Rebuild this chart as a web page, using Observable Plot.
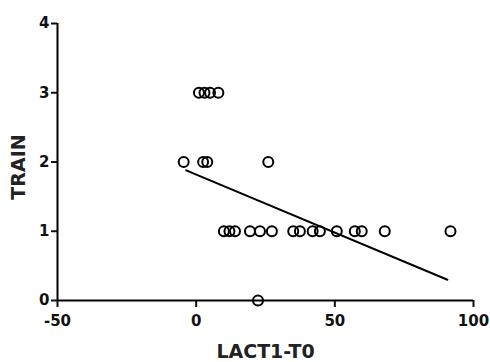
<!DOCTYPE html>
<html>
<head>
<meta charset="utf-8">
<script src="https://cdn.jsdelivr.net/npm/d3@7"></script>
<script src="https://cdn.jsdelivr.net/npm/@observablehq/plot@0.6"></script>
<style>
  body { margin: 0; background: #fff; }
  #chart { width: 490px; height: 362px; }
</style>
</head>
<body>
<div id="chart"></div>
<script>
// Data
const lact = [1, 3, 5, 8, -4.5, 2.5, 4, 26, 10, 12, 14, 19.4, 23, 27.3, 35, 37.4, 42, 44.6, 50.7, 57.2, 59.7, 68, 91.7, 22.3];
const train = [3, 3, 3, 3, 2, 2, 2, 2, 1, 1, 1, 1, 1, 1, 1, 1, 1, 1, 1, 1, 1, 1, 1, 0];
// Fitted regression line endpoints
const fitX = [-3.6, 90.6];
const fitY = [1.88, 0.30];
const xTicks = [-50, 0, 50, 100];
const yTicks = [0, 1, 2, 3, 4];
const xLabel = "LACT1-T0";
const yLabel = "TRAIN";

const points = lact.map((v, i) => ({x: v, y: train[i]}));
const fit = fitX.map((v, i) => ({x: v, y: fitY[i]}));
const fmt = d => String(d);

const chart = Plot.plot({
  width: 490,
  height: 362,
  marginLeft: 57,
  marginRight: 17,
  marginTop: 23,
  marginBottom: 62,
  style: {fontFamily: "'DejaVu Sans', sans-serif", fontWeight: "bold", background: "#fff", color: "#111"},
  x: {domain: [-50, 100]},
  y: {domain: [0, 4]},
  marks: [
    Plot.axisX({ticks: xTicks, tickFormat: fmt, tickSize: 7, tickPadding: 8, fontSize: 15, fontWeight: "bold", strokeWidth: 2, fill: "#111", label: null}),
    Plot.axisY({ticks: yTicks, tickFormat: fmt, tickSize: 6, tickPadding: 2, fontSize: 15, fontWeight: "bold", strokeWidth: 2, fill: "#111", label: null}),
    Plot.ruleY([0], {stroke: "#000", strokeWidth: 2}),
    Plot.ruleX([-50], {stroke: "#000", strokeWidth: 2}),
    Plot.line(fit, {x: "x", y: "y", stroke: "#000", strokeWidth: 2}),
    Plot.dot(points, {x: "x", y: "y", r: 5, stroke: "#000", strokeWidth: 2, fill: "none"}),
    Plot.text([xLabel], {frameAnchor: "bottom", dy: 57, fontSize: 19, fontWeight: "bold", fill: "#222"}),
    Plot.text([yLabel], {frameAnchor: "left", textAnchor: "middle", dx: -39, dy: 5, rotate: -90, fontSize: 19, fontWeight: "bold", fill: "#222"})
  ]
});
document.getElementById("chart").appendChild(chart);
</script>
</body>
</html>
